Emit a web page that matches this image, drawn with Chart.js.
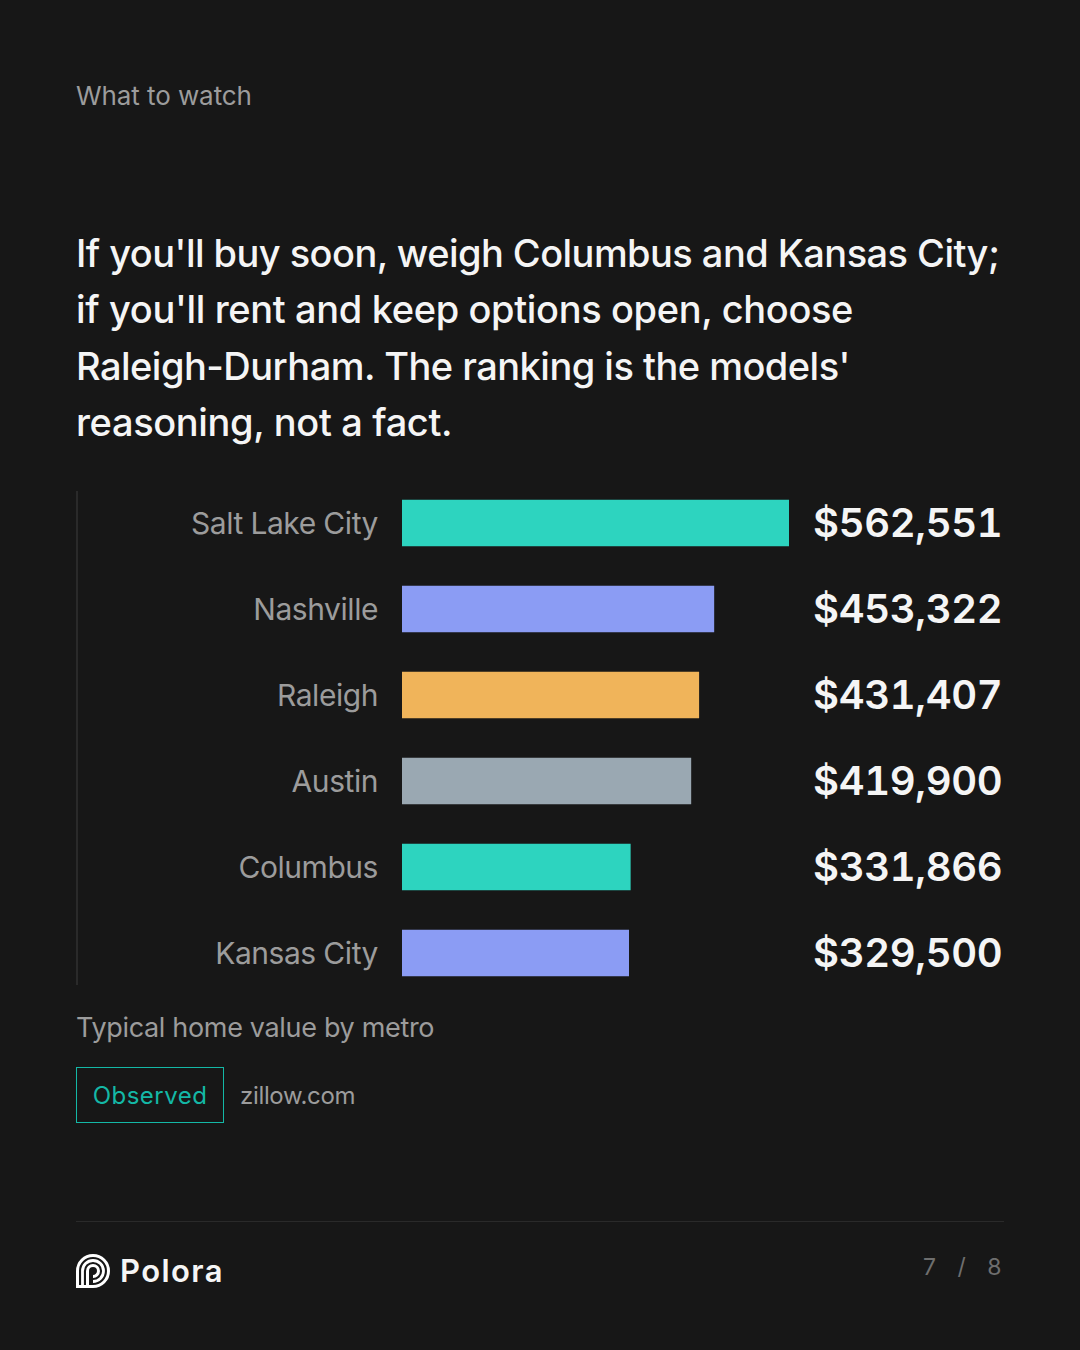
<!DOCTYPE html>
<html>
<head>
<meta charset="utf-8">
<script src="https://cdn.jsdelivr.net/npm/chart.js@4"></script>
<style>
  html, body { margin: 0; padding: 0; background: #171717; }
  body { width: 1080px; height: 1350px; position: relative; overflow: hidden; font-family: Inter, sans-serif; }
  .abs { position: absolute; white-space: nowrap; }
  #kicker { left: 76px; top: 79.5px; font-size: 26px; line-height: 32px; letter-spacing: -0.08px; color: #9c9c9c; }
  #headline { left: 76px; top: 225px; font-size: 38px; line-height: 56.3px; font-weight: 500; color: #f5f5f5; }
  #headline span { display: block; }
  #chartBox { left: 0; top: 480px; width: 1080px; height: 516px; }
  #chart { font-variant-numeric: tabular-nums; }
  #rail { left: 76px; top: 491px; width: 2px; height: 494px; background: #2a2a2a; }
  #caption { left: 76px; top: 1011px; font-size: 27px; line-height: 34px; letter-spacing: -0.33px; color: #9c9c9c; }
  #badge { left: 76px; top: 1067px; width: 146px; height: 54px; border: 1px solid #14b8a6; color: #14b8a6; font-size: 24px; line-height: 56px; letter-spacing: 0.48px; text-align: center; }
  #source { left: 240px; top: 1080px; font-size: 24px; line-height: 32px; letter-spacing: -0.33px; color: #9c9c9c; }
  #footRule { left: 76px; top: 1221px; width: 928px; height: 1px; background: #2a2a2a; }
  #brand { left: 120px; top: 1250px; font-size: 31px; line-height: 42px; font-weight: 600; letter-spacing: 1.4px; color: #f5f5f5; }
  #logo { left: 76px; top: 1254px; }
  #pager { left: 923px; top: 1253px; font-size: 23px; line-height: 28px; color: #6e6e6e; word-spacing: 15px; }
</style>
</head>
<body>
<div class="abs" id="kicker">What to watch</div>
<div class="abs" id="headline"><span style="letter-spacing:-0.55px">If you'll buy soon, weigh Columbus and Kansas City;</span><span style="letter-spacing:-0.36px">if you'll rent and keep options open, choose</span><span style="letter-spacing:-0.52px">Raleigh-Durham. The ranking is the models'</span><span style="letter-spacing:-0.36px">reasoning, not a fact.</span></div>
<div class="abs" id="chartBox"><canvas id="chart" width="1080" height="516"></canvas></div>
<div class="abs" id="rail"></div>
<div class="abs" id="caption">Typical home value by metro</div>
<div class="abs" id="badge">Observed</div>
<div class="abs" id="source">zillow.com</div>
<div class="abs" id="footRule"></div>
<svg class="abs" id="logo" width="34" height="34" viewBox="0 0 34 34" fill="none" stroke="#ffffff">
  <path stroke-width="3" d="M1.5 32.5V17a15.5 15.5 0 1 1 15.5 15.5Z"/>
  <path stroke-width="2.8" d="M6.5 32V17a10.5 10.5 0 1 1 10.5 10.5"/>
  <path stroke-width="3" d="M11.5 32V17a5.5 5.5 0 1 1 5.5 5.5"/>
</svg>
<div class="abs" id="brand">Polora</div>
<div class="abs" id="pager">7 / 8</div>
<script>
const metros = ['Salt Lake City', 'Nashville', 'Raleigh', 'Austin', 'Columbus', 'Kansas City'];
const homeValues = [562551, 453322, 431407, 419900, 331866, 329500];
const barColors = ['#2dd4bf', '#8b9cf4', '#f0b45a', '#9aa8b2', '#2dd4bf', '#8b9cf4'];

const canvas = document.getElementById('chart');
// opaque context so canvas text gets the same antialiasing as the page text
canvas.getContext('2d', { alpha: false });

const background = {
  id: 'background',
  beforeDraw(chart) {
    const ctx = chart.ctx;
    ctx.fillStyle = '#171717';
    ctx.fillRect(0, 0, chart.width, chart.height);
    ctx.letterSpacing = '-0.45px';
    // labels sit 2px under the band centre
    const axis = chart.scales.y;
    if (!axis.labelsShifted) {
      const drawLabels = axis.drawLabels;
      axis.drawLabels = function (area) {
        ctx.save();
        ctx.translate(0, 2);
        drawLabels.call(axis, area);
        ctx.restore();
      };
      axis.labelsShifted = true;
    }
  }
};

const valueLabels = {
  id: 'valueLabels',
  afterDatasetsDraw(chart) {
    const ctx = chart.ctx;
    const x = chart.scales.x.getPixelForValue(chart.scales.x.max) + 24;
    ctx.save();
    ctx.letterSpacing = '-0.35px';
    ctx.font = '600 40px Inter';
    ctx.fillStyle = '#f5f5f5';
    ctx.textAlign = 'left';
    ctx.textBaseline = 'middle';
    homeValues.forEach((v, i) => {
      ctx.fillText('$' + v.toLocaleString('en-US'), x, chart.scales.y.getPixelForValue(i) + 2);
    });
    ctx.restore();
  }
};

new Chart(canvas, {
  type: 'bar',
  data: {
    labels: metros,
    datasets: [{
      data: homeValues,
      backgroundColor: barColors,
      barThickness: 46
    }]
  },
  options: {
    indexAxis: 'y',
    responsive: false,
    animation: false,
    layout: { padding: { right: 291 } },
    plugins: { legend: { display: false }, tooltip: { enabled: false } },
    scales: {
      x: { display: false, min: 0, max: 562551 },
      y: {
        afterFit(axis) {
          axis.width = 402;
          axis.paddingTop = 0;
          axis.paddingBottom = 0;
        },
        border: { display: false },
        grid: { display: false, drawTicks: false },
        ticks: { color: '#9c9c9c', padding: 24, font: { family: 'Inter', size: 30 } }
      }
    }
  },
  plugins: [background, valueLabels]
});
</script>
</body>
</html>
